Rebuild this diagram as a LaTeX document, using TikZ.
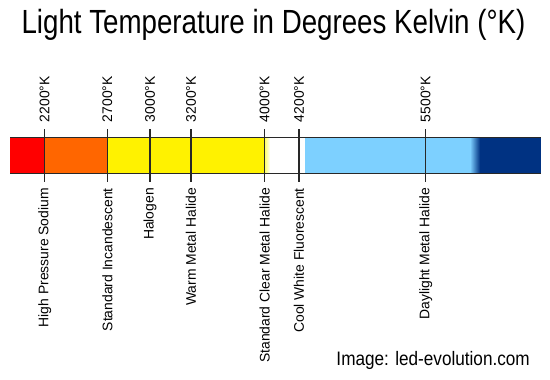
\documentclass[tikz,border=0pt]{standalone}
\usepackage{fontspec}
\setmainfont{Liberation Sans}
\definecolor{sodium}{RGB}{255,102,0}
\definecolor{skyblue}{RGB}{125,208,255}
\definecolor{deepblue}{RGB}{0,50,130}
\definecolor{rule}{RGB}{40,40,40}
\begin{document}
\begin{tikzpicture}[x=1pt, y=-1pt,
		lbl/.style={font=\fontsize{13.9}{16}\selectfont, rotate=90, inner sep=0pt},
		toplbl/.style={lbl, anchor=west},
		botlbl/.style={lbl, anchor=east},
		tickline/.style={rule, line width=1.4pt}]
	\useasboundingbox (0,0) rectangle (550,380);
	% colour bar
	\fill[red] (10,137.3) rectangle (44.7,173.3);
	\fill[sodium] (44.7,137.3) rectangle (107.3,173.3);
	\fill[yellow] (107.3,137.3) rectangle (264.7,173.3);
	\shade[left color=yellow!60, right color=white] (264.7,137.3) rectangle (270,173.3);
	\fill[skyblue] (305,137.3) rectangle (470,173.3);
	\shade[left color=skyblue, right color=deepblue] (470,137.3) rectangle (480,173.3);
	\fill[deepblue] (480,137.3) rectangle (540.7,173.3);
	\coordinate (barNW) at (10,137.3); \coordinate (barNE) at (540.7,137.3);
	\coordinate (barSW) at (10,173.3); \coordinate (barSE) at (540.7,173.3);
	\draw[tickline] (barNW) -- (barNE);
	\draw[tickline] (barSW) -- (barSE);
	% ticks and labels
	\foreach \x/\k/\lamp [count=\i] in {44.7/2200/High Pressure Sodium, 107.3/2700/Standard Incandescent, 150/3000/Halogen, 191/3200/Warm Metal Halide, 264.7/4000/Standard Clear Metal Halide, 299/4200/Cool White Fluorescent, 425.7/5500/Daylight Metal Halide} {
		\coordinate (up\i) at (\x,129);
		\coordinate (dn\i) at (\x,181.5);
		\draw[tickline] (up\i) -- (dn\i);
		\node[toplbl] (k\i) at (\x,122.3) {\k°K};
		\node[botlbl] (lamp\i) at (\x,188) {\lamp};
	}
	\node[font=\fontsize{33.5}{38}\selectfont, anchor=base, inner sep=0pt] (title) at (273.5,33.3) {\scalebox{0.827}[1]{Light Temperature in Degrees Kelvin (°K)}};
	\node[font=\fontsize{19.5}{22}\selectfont, anchor=base east, inner sep=0pt] (credit) at (530,365) {\scalebox{0.88}[1]{Image: led-evolution.com}};
\end{tikzpicture}
\end{document}
